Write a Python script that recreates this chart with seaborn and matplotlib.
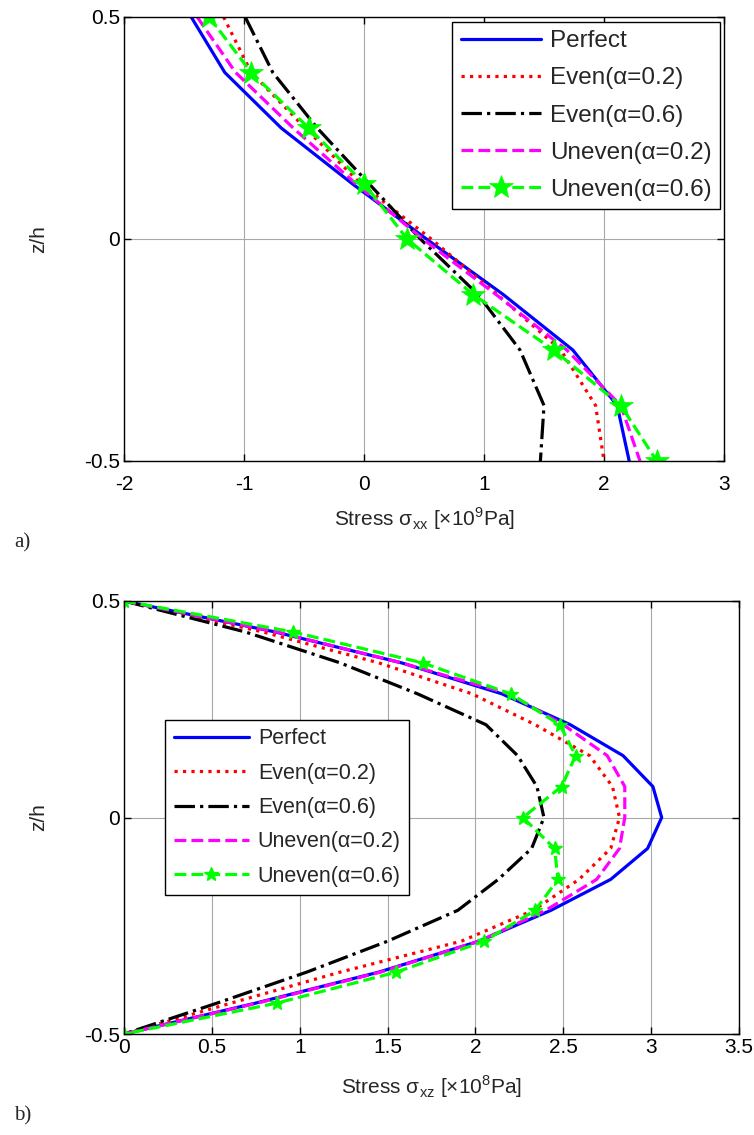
import numpy as np
import pandas as pd
import matplotlib
matplotlib.use("Agg")
import matplotlib.pyplot as plt
import seaborn as sns

# ---------------- data (a): sigma_xx [x1e9 Pa] ----------------
z_a = [0.5, 0.375, 0.25, 0.125, 0.0, -0.125, -0.25, -0.375, -0.5]
perfect_a = [-1.44, -1.16, -0.69, -0.10, 0.52, 1.16, 1.74, 2.11, 2.21]
even02_a = [-1.17, -0.94, -0.49, -0.03, 0.56, 1.11, 1.64, 1.93, 2.00]
even06_a = [-0.99, -0.76, -0.39, 0.04, 0.47, 0.95, 1.30, 1.50, 1.47]
uneven02_a = [-1.39, -1.07, -0.59, -0.07, 0.49, 1.10, 1.69, 2.14, 2.30]
uneven06_a = [-1.29, -0.94, -0.46, 0.00, 0.36, 0.91, 1.58, 2.14, 2.44]

# ---------------- data (b): sigma_xz [x1e8 Pa] ----------------
z_b = [0.5, 0.4286, 0.3571, 0.2857, 0.2143, 0.1429, 0.0714, 0.0,
       -0.0714, -0.1429, -0.2143, -0.2857, -0.3571, -0.4286, -0.5]
perfect_b = [0.0, 0.86, 1.58, 2.15, 2.54, 2.84, 3.01, 3.06,
             2.98, 2.77, 2.43, 2.02, 1.45, 0.75, 0.0]
even02_b = [0.0, 0.79, 1.45, 1.98, 2.34, 2.65, 2.78, 2.82,
            2.77, 2.59, 2.33, 1.92, 1.23, 0.61, 0.0]
even06_b = [0.0, 0.69, 1.23, 1.67, 2.06, 2.24, 2.35, 2.39,
            2.32, 2.13, 1.90, 1.50, 1.04, 0.53, 0.0]
uneven02_b = [0.0, 0.87, 1.58, 2.19, 2.50, 2.75, 2.85, 2.85,
              2.82, 2.69, 2.40, 2.02, 1.46, 0.76, 0.0]
uneven06_b = [0.0, 0.96, 1.70, 2.20, 2.48, 2.57, 2.49, 2.27,
              2.45, 2.47, 2.34, 2.05, 1.55, 0.87, 0.0]

labels = ["Perfect", "Even(\u03b1=0.2)", "Even(\u03b1=0.6)",
          "Uneven(\u03b1=0.2)", "Uneven(\u03b1=0.6)"]
xticks_a = [-2, -1, 0, 1, 2, 3]
xticks_b = [0, 0.5, 1, 1.5, 2, 2.5, 3, 3.5]
yticks = [-0.5, 0, 0.5]

colors = ["#0000ff", "#ff0000", "#000000", "#ff00ff", "#00ff00"]
styles = ["-", ":", "-.", "--", "--"]

sns.set_style("ticks")
plt.rcParams["font.family"] = ["Liberation Sans", "DejaVu Sans"]
plt.rcParams["mathtext.fontset"] = "custom"
plt.rcParams["mathtext.rm"] = "Liberation Sans"

FS = 15

fig = plt.figure(figsize=(7.54, 11.35), dpi=100)
W, H = 754, 1135
ax1 = fig.add_axes([124 / W, 1 - 461 / H, 600 / W, 444 / H])
ax2 = fig.add_axes([124 / W, 1 - 1034 / H, 615 / W, 433 / H])


def draw(ax, z, series, star_ms, star_mew):
    for i, (vals, lab) in enumerate(zip(series, labels)):
        df = pd.DataFrame({"x": vals, "z": z})
        kw = dict(color=colors[i], linestyle=styles[i], linewidth=2.3)
        if i == 4:
            kw.update(marker="*", markersize=star_ms, markeredgecolor=colors[i],
                      markerfacecolor=colors[i], markeredgewidth=star_mew)
        sns.lineplot(data=df, x="x", y="z", sort=False, estimator=None,
                     ax=ax, label=lab, **kw)


draw(ax1, z_a, [perfect_a, even02_a, even06_a, uneven02_a, uneven06_a], 18, 0.5)
draw(ax2, z_b, [perfect_b, even02_b, even06_b, uneven02_b, uneven06_b], 10, 1.0)

for ax, xt, xpad in ((ax1, xticks_a, 10), (ax2, xticks_b, 3)):
    ax.set_xlim(xt[0], xt[-1])
    ax.set_ylim(-0.5, 0.5)
    ax.set_xticks(xt)
    ax.set_xticklabels([f"{v:g}" for v in xt])
    ax.set_yticks(yticks)
    ax.set_yticklabels(["-0.5", "0", "0.5"])
    ax.grid(True, color="#a8a8a8", linewidth=0.8)
    ax.tick_params(direction="in", top=True, right=True, length=5,
                   width=1.0, labelsize=FS, colors="black")
    ax.tick_params(axis="x", pad=xpad)
    ax.tick_params(axis="y", pad=3)
    for s in ax.spines.values():
        s.set_visible(True)
        s.set_color("black")
        s.set_linewidth(1.0)
    ax.set_ylabel("z/h", fontsize=FS)

ax1.yaxis.set_label_coords((48 - 124) / 600, 0.5)
ax2.yaxis.set_label_coords((48 - 124) / 615, 0.5)

ax1.set_xlabel("Stress \u03c3$_{\\mathregular{xx}}$ [\u00d710$^{\\mathregular{9}}$Pa]",
               fontsize=FS)
ax2.set_xlabel("Stress \u03c3$_{\\mathregular{xz}}$ [\u00d710$^{\\mathregular{8}}$Pa]",
               fontsize=FS)
ax1.xaxis.set_label_coords(0.5, (461 - 505) / 444)
ax2.xaxis.set_label_coords(0.5, (1034 - 1073) / 433)

leg1 = ax1.legend(loc="upper right", bbox_to_anchor=(0.993, 0.989),
                  fontsize=17.5, frameon=True, fancybox=False, framealpha=1,
                  edgecolor="black", handlelength=3.3, labelspacing=0.62,
                  borderpad=0.35, handletextpad=0.35, borderaxespad=0)
leg1.get_frame().set_linewidth(1.0)
leg2 = ax2.legend(loc="lower left", bbox_to_anchor=(0.067, 0.32),
                  fontsize=15.5, frameon=True, fancybox=False, framealpha=1,
                  edgecolor="black", handlelength=3.5, labelspacing=0.62,
                  borderpad=0.4, handletextpad=0.4, borderaxespad=0)
leg2.get_frame().set_linewidth(1.0)

fig.text(14 / W, 1 - 543 / H, "a)", family="Liberation Serif", fontsize=15,
         va="center", ha="left")
fig.text(14 / W, 1 - 1116 / H, "b)", family="Liberation Serif", fontsize=15,
         va="center", ha="left")

fig.savefig("out.png", dpi=100)
